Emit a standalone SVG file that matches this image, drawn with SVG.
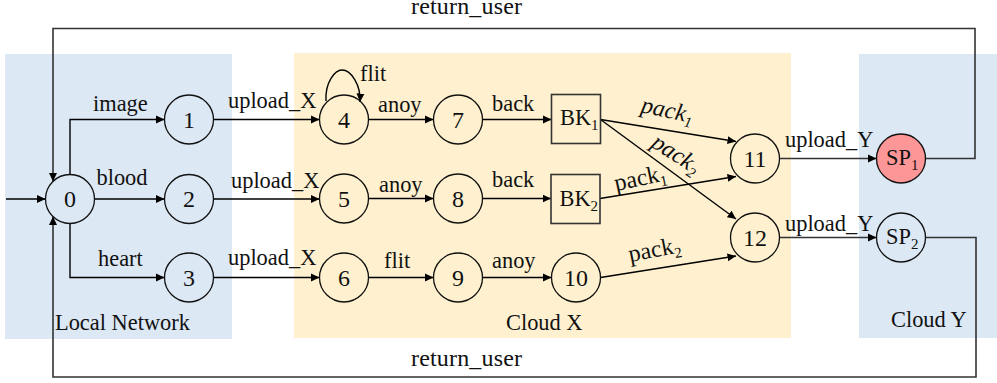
<svg xmlns="http://www.w3.org/2000/svg" width="997" height="383" viewBox="0 0 997 383">
<style>
text{font-family:"Liberation Serif","Times New Roman",serif;font-size:22.4px;fill:#111}
.n{text-anchor:middle;font-size:24px}
.c{fill:none;stroke:#000;stroke-width:1.4}
.d{fill:none;stroke:#333;stroke-width:1.6}
.s{fill:none;stroke:#111;stroke-width:1.3}
.sub{font-size:15px}
.it{font-style:italic}
.p{font-size:24px}
.r{font-size:24px}
</style>
<defs>
<marker id="a" markerUnits="userSpaceOnUse" markerWidth="9" markerHeight="9" refX="8.500" refY="4.500" orient="auto"><path d="M0 0.500L8.500 4.500L0 8.500Z" fill="#000"/></marker>
</defs>
<g id="regions">
<rect x="5" y="54" width="227" height="285" fill="#dce8f4"/>
<rect x="294" y="53" width="497" height="285" fill="#fff1cf"/>
<rect x="859" y="54" width="138" height="284" fill="#dce8f4"/>
</g>
<g id="connectors">
<path class="c" marker-end="url(#a)" d="M6 199H45.500"/>
<path class="c" marker-end="url(#a)" d="M70 174.500V119.500H164.500"/>
<path class="c" marker-end="url(#a)" d="M94.500 199H164.500"/>
<path class="c" marker-end="url(#a)" d="M70 223.500V277.500H164.500"/>
<path class="c" marker-end="url(#a)" d="M213.500 119.500H319.500"/>
<path class="c" marker-end="url(#a)" d="M213.500 199H319.500"/>
<path class="c" marker-end="url(#a)" d="M213.500 277.500H319.500"/>
<path class="c" marker-end="url(#a)" d="M326 101C325 82 335 70 342 70C351 70 361 85 360 102"/>
<path class="c" marker-end="url(#a)" d="M368.500 119.500H433.500"/>
<path class="c" marker-end="url(#a)" d="M368.500 198.500H433.500"/>
<path class="c" marker-end="url(#a)" d="M368.500 277.500H433.500"/>
<path class="c" marker-end="url(#a)" d="M482.500 119.500H551.500"/>
<path class="c" marker-end="url(#a)" d="M482.500 198.500H551"/>
<path class="c" marker-end="url(#a)" d="M482.500 277.500H551.500"/>
<path class="c" marker-end="url(#a)" d="M600.500 119.500L736 141.500"/>
<path class="c" marker-end="url(#a)" d="M600.500 119.500L736 219"/>
<path class="c" marker-end="url(#a)" d="M600 198.500L736 176.500"/>
<path class="c" marker-end="url(#a)" d="M600.500 277.500L736 256"/>
<path class="d" marker-end="url(#a)" d="M779.500 158.500H876.500"/>
<path class="d" marker-end="url(#a)" d="M779.500 237.500H876.500"/>
<path class="d" marker-end="url(#a)" d="M925.500 158.500H975V28.500H53V181.500"/>
<path class="d" marker-end="url(#a)" d="M925.500 237.500H976V377H53V216.500"/>
</g>
<g id="node0"><circle class="s" cx="70" cy="199" r="24.500"/><text class="n" x="70" y="207">0</text></g>
<g id="node1"><circle class="s" cx="189" cy="119.500" r="24.500"/><text class="n" x="189" y="128">1</text></g>
<g id="node2"><circle class="s" cx="189" cy="199" r="24.500"/><text class="n" x="189" y="207">2</text></g>
<g id="node3"><circle class="s" cx="189" cy="277.500" r="24.500"/><text class="n" x="189" y="286">3</text></g>
<g id="node4"><circle class="s" cx="344" cy="119.500" r="24.500"/><text class="n" x="344" y="128">4</text></g>
<g id="node5"><circle class="s" cx="344" cy="198.500" r="24.500"/><text class="n" x="344" y="207">5</text></g>
<g id="node6"><circle class="s" cx="344" cy="277.500" r="24.500"/><text class="n" x="344" y="286">6</text></g>
<g id="node7"><circle class="s" cx="458" cy="119.500" r="24.500"/><text class="n" x="458" y="128">7</text></g>
<g id="node8"><circle class="s" cx="458" cy="198.500" r="24.500"/><text class="n" x="458" y="207">8</text></g>
<g id="node9"><circle class="s" cx="458" cy="277.500" r="24.500"/><text class="n" x="458" y="286">9</text></g>
<g id="node10"><circle class="s" cx="576" cy="277.500" r="24.500"/><text class="n" x="576" y="286">10</text></g>
<g id="nodeBK1"><rect class="d" x="551.500" y="94.500" width="49" height="49"/><text x="560" y="125">BK<tspan class="sub" dy="5">1</tspan></text></g>
<g id="nodeBK2"><rect class="d" x="551" y="174.500" width="49" height="49"/><text x="559.500" y="206">BK<tspan class="sub" dy="5">2</tspan></text></g>
<g id="node11"><circle class="s" cx="755" cy="158.500" r="24.500"/><text class="n" x="755" y="167">11</text></g>
<g id="node12"><circle class="s" cx="755" cy="237.500" r="24.500"/><text class="n" x="755" y="246">12</text></g>
<g id="nodeSP1"><circle class="s" cx="901" cy="158.500" r="24.500" style="fill:#fd9797"/><text x="886" y="165">SP<tspan class="sub" dy="5">1</tspan></text></g>
<g id="nodeSP2"><circle class="s" cx="901" cy="237.500" r="24.500"/><text x="886" y="244">SP<tspan class="sub" dy="5">2</tspan></text></g>
<g id="labels">
<text x="93" y="111">image</text>
<text x="96.500" y="185">blood</text>
<text x="98" y="266">heart</text>
<text x="228" y="108">upload_X</text>
<text x="231" y="188">upload_X</text>
<text x="228" y="265">upload_X</text>
<text x="360" y="81">flit</text>
<text x="378" y="112">anoy</text>
<text x="379" y="192">anoy</text>
<text x="384" y="268">flit</text>
<text x="492" y="111">back</text>
<text x="492" y="187">back</text>
<text x="492" y="268">anoy</text>
<text class="it p" transform="translate(640 112) rotate(12)">pack<tspan class="sub" dy="5">1</tspan></text>
<text class="it p" transform="translate(650 146) rotate(33)">pack<tspan class="sub" dy="5">2</tspan></text>
<text class="p" transform="translate(616 191) rotate(-12)">pack<tspan class="sub" dy="5">1</tspan></text>
<text class="p" transform="translate(630 262) rotate(-11)">pack<tspan class="sub" dy="5">2</tspan></text>
<text x="785" y="147">upload_Y</text>
<text x="785" y="231">upload_Y</text>
<text class="r" x="411" y="14" textLength="111">return_user</text>
<text class="r" x="411" y="366" textLength="111">return_user</text>
<text x="55" y="330">Local Network</text>
<text x="506" y="330">Cloud X</text>
<text x="891" y="327">Cloud Y</text>
</g>
</svg>
